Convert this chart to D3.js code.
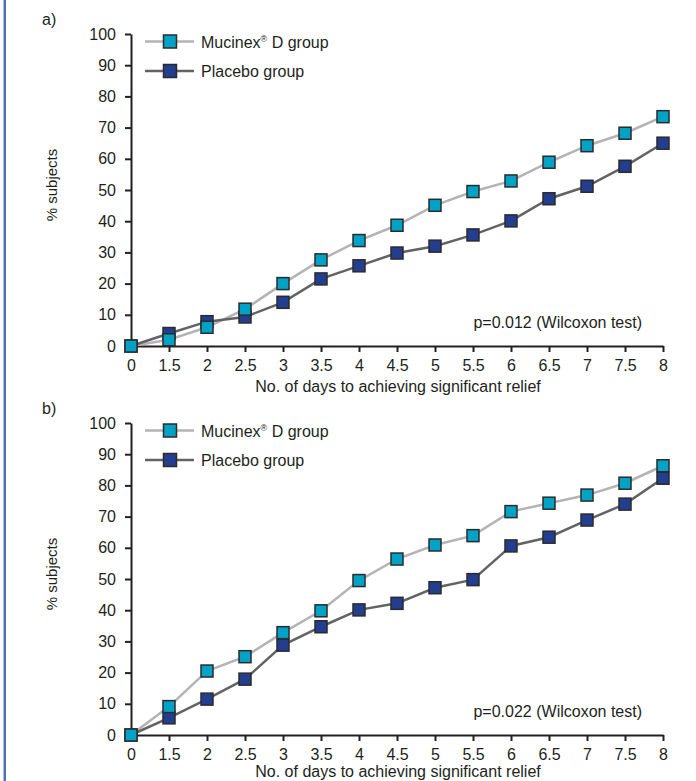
<!DOCTYPE html>
<html>
<head>
<meta charset="utf-8">
<script src="https://cdn.jsdelivr.net/npm/d3@7"></script>
<style>
  body { margin: 0; background: #fff; }
  text { font-family: "Liberation Sans", Arial, sans-serif; fill: #231f20; }
</style>
</head>
<body>
<svg id="chart" width="696" height="781"></svg>
<script>
// days on the x axis (evenly spaced categories)
var days = ["0", "1.5", "2", "2.5", "3", "3.5", "4", "4.5", "5", "5.5", "6", "6.5", "7", "7.5", "8"];
var yTicks = [0, 10, 20, 30, 40, 50, 60, 70, 80, 90, 100];

// panel a
var mucinexA = [0, 2, 6, 11.8, 20, 27.6, 33.8, 38.7, 45.1, 49.5, 52.9, 58.9, 64.2, 68.2, 73.5];
var placeboA = [0, 4, 7.8, 9.3, 14, 21.5, 25.7, 29.8, 32, 35.6, 40.1, 47.2, 51.2, 57.6, 65];
// panel b
var mucinexB = [0, 9.1, 20.5, 25.1, 32.8, 39.8, 49.5, 56.4, 60.9, 63.9, 71.6, 74.3, 76.9, 80.7, 86.3];
var placeboB = [0, 5.5, 11.5, 17.9, 28.8, 34.7, 40.1, 42.2, 47.2, 49.8, 60.6, 63.4, 68.9, 74, 82.3];

var seriesNames = ["Mucinex", "Placebo group"];
var lineColors = ["#b4b4b6", "#636366"];
var fillColors = ["#00a2c6", "#233e8e"];
var fs = 16;

var svg = d3.select("#chart");

// blue border strip at the left edge
svg.append("rect").attr("x", 3.5).attr("y", 0).attr("width", 2.5).attr("height", 781).attr("fill", "#4c72b8");

function panel(top, label, muc, plac, pText, titleY) {
    var left = 131, right = 663, height = 312;
    var g = svg.append("g").attr("transform", "translate(0," + top + ")");

    var x = d3.scalePoint().domain(days).range([left, right]);
    var y = d3.scaleLinear().domain([0, 100]).range([height, 0]);

    g.append("text").attr("x", 42).attr("y", -9).attr("font-size", fs).text(label);

    // y axis
    var ya = g.append("g").attr("transform", "translate(" + left + ",0)")
        .call(d3.axisLeft(y).tickValues(yTicks).tickSize(6).tickPadding(9).tickSizeOuter(0));
    // x axis
    var xa = g.append("g").attr("transform", "translate(0," + height + ")")
        .call(d3.axisBottom(x).tickSize(6).tickPadding(3).tickSizeOuter(0));
    [ya, xa].forEach(function(a) {
        a.select(".domain").attr("stroke", "#231f20").attr("stroke-width", 2);
        a.selectAll(".tick line").attr("stroke", "#231f20").attr("stroke-width", 2);
        a.selectAll(".tick text").attr("font-size", fs).attr("font-family", "Liberation Sans, Arial, sans-serif").attr("fill", "#231f20");
    });
    xa.selectAll(".tick text").attr("y", 25).attr("dy", null);

    g.append("text").attr("transform", "translate(57," + (height / 2 - 5) + ") rotate(-90)")
        .attr("text-anchor", "middle").attr("font-size", 15).text("% subjects");
    g.append("text").attr("x", 398).attr("y", height + titleY)
        .attr("text-anchor", "middle").attr("font-size", fs).text("No. of days to achieving significant relief");
    g.append("text").attr("x", 642).attr("y", height - 18)
        .attr("text-anchor", "end").attr("font-size", fs).text(pText);

    var line = d3.line().x(function(d, i) { return x(days[i]); }).y(function(d) { return y(d); });
    [muc, plac].forEach(function(vals, s) {
        g.append("path").datum(vals).attr("d", line).attr("fill", "none")
            .attr("stroke", lineColors[s]).attr("stroke-width", 2.5);
    });
    // placebo squares first, mucinex on top
    [plac, muc].forEach(function(vals, k) {
        var s = k == 0 ? 1 : 0;
        g.selectAll(".sq" + s).data(vals).enter().append("rect")
            .attr("x", function(d, i) { return x(days[i]) - 6; })
            .attr("y", function(d) { return y(d) - 6; })
            .attr("width", 12).attr("height", 12)
            .attr("fill", fillColors[s]).attr("stroke", "#2b2b2d").attr("stroke-width", 1.5);
    });

    // legend
    [0, 1].forEach(function(s) {
        var ly = 7.5 + s * 29.5;
        g.append("line").attr("x1", 145).attr("x2", 194).attr("y1", ly).attr("y2", ly)
            .attr("stroke", lineColors[s]).attr("stroke-width", 2.5);
        g.append("rect").attr("x", 163.5).attr("y", ly - 6.5).attr("width", 13).attr("height", 13)
            .attr("fill", fillColors[s]).attr("stroke", "#2b2b2d").attr("stroke-width", 1.5);
        var t = g.append("text").attr("x", 201).attr("y", ly + 6).attr("font-size", fs);
        if (s == 0) {
            t.append("tspan").text("Mucinex");
            t.append("tspan").attr("font-size", 9).attr("dy", -6).text("®");
            t.append("tspan").attr("dy", 6).text(" D group");
        } else {
            t.text(seriesNames[1]);
        }
    });
}

panel(34, "a)", mucinexA, placeboA, "p=0.012 (Wilcoxon test)", 46);
panel(423, "b)", mucinexB, placeboB, "p=0.022 (Wilcoxon test)", 42);
</script>
</body>
</html>
